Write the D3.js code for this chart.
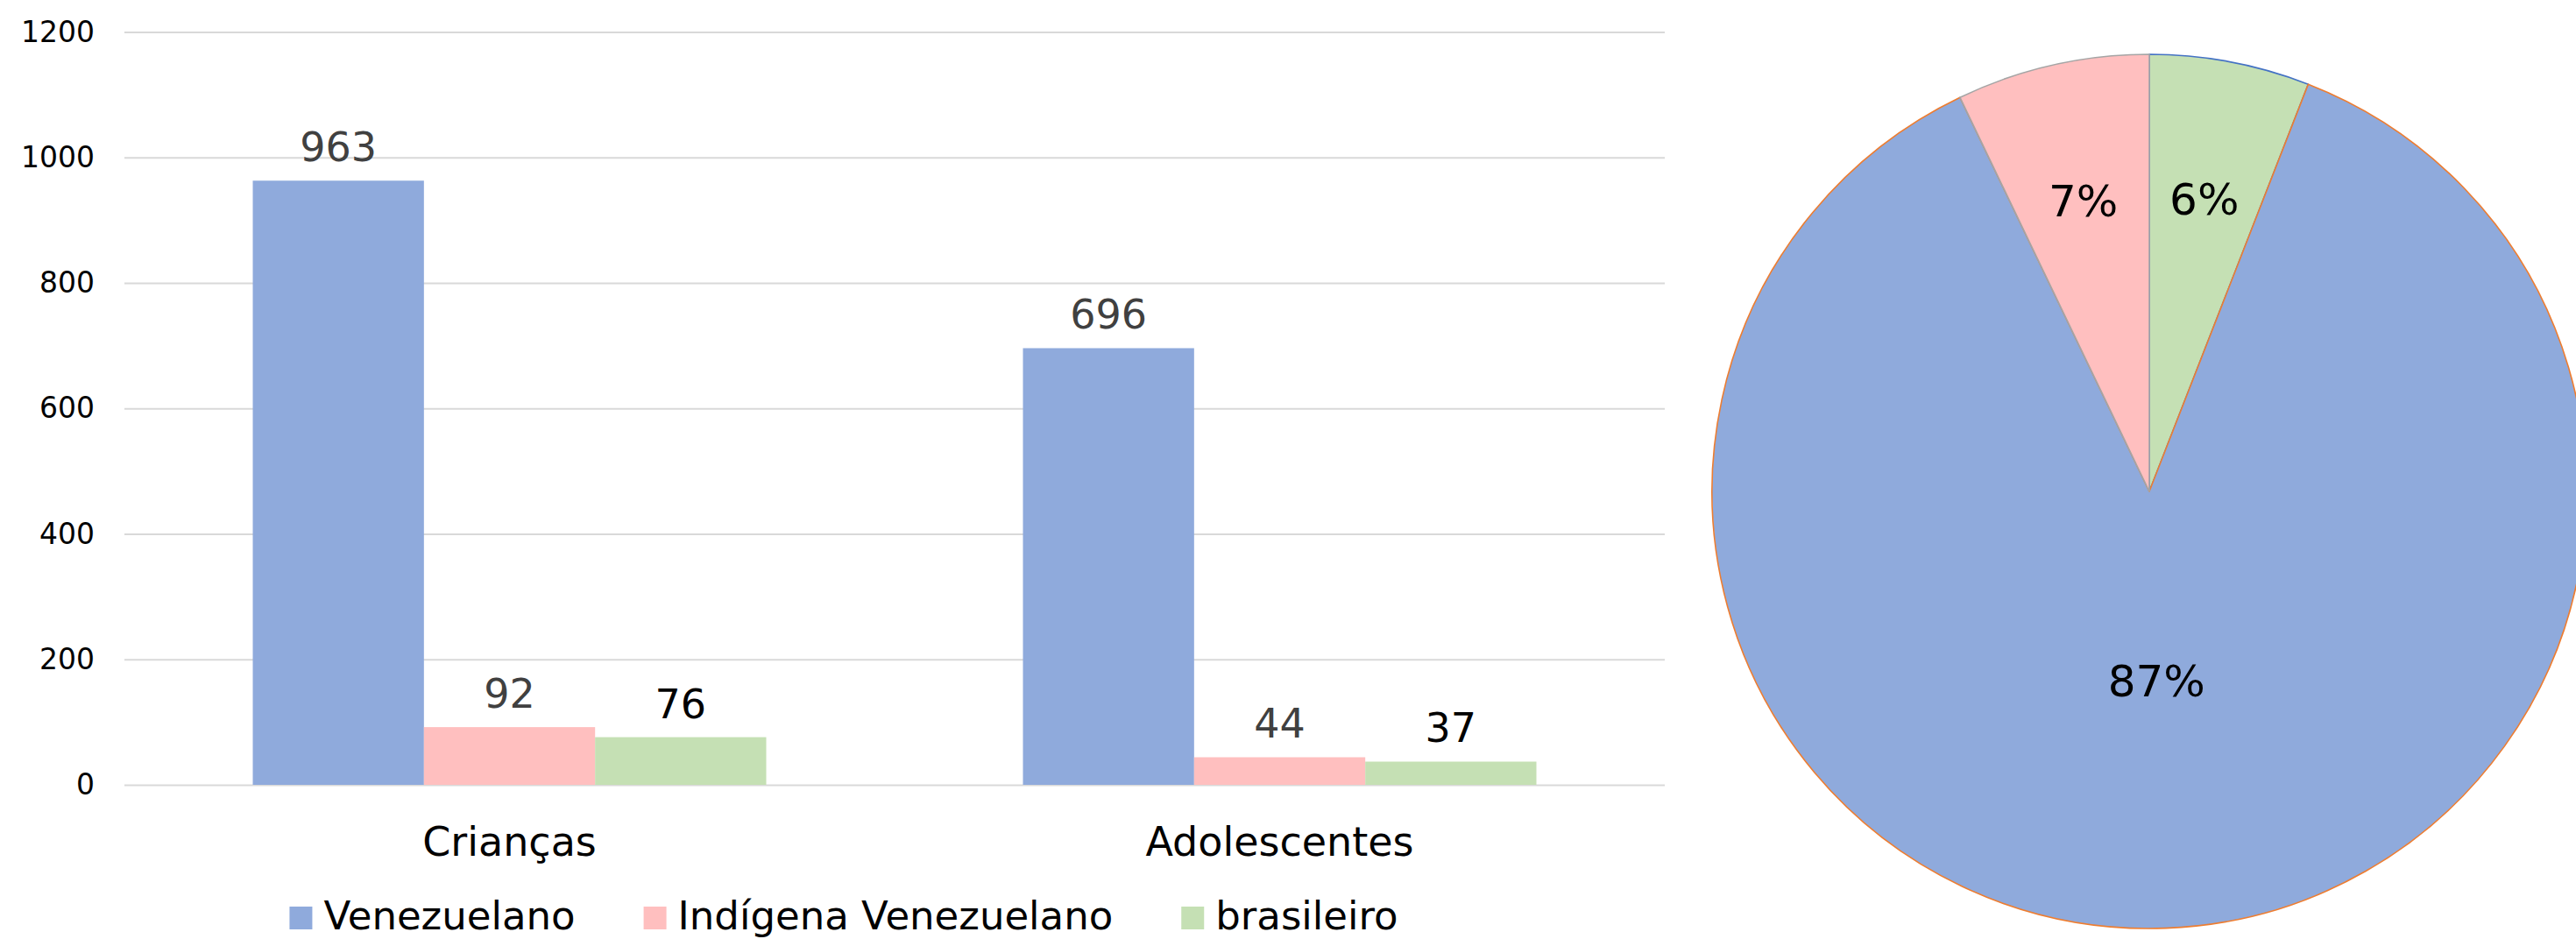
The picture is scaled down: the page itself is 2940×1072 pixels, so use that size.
<!DOCTYPE html>
<html><head><meta charset="utf-8">
<script src="https://cdn.jsdelivr.net/npm/d3@7"></script>
<style>body{margin:0;background:#fff} svg{display:block}</style>
</head><body>
<svg id="c" width="2940" height="1072"></svg>
<script>
// ---- data ----
const categories = ["Crianças", "Adolescentes"];
const seriesNames = ["Venezuelano", "Indígena Venezuelano", "brasileiro"];
const venezuelano = [963, 696];
const indigena = [92, 44];
const brasileiro = [76, 37];
const yTicks = [0, 200, 400, 600, 800, 1000, 1200];
const pieNames = ["brasileiro", "Venezuelano", "Indígena Venezuelano"];
const pieValues = [113, 1659, 136];
const piePercentLabels = ["6%", "87%", "7%"];

// ---- styles ----
const FONT = "'DejaVu Sans', sans-serif";
const seriesColors = ["#8FAADC", "#FFBFBF", "#C5E0B4"];
const labelColors = ["#404040", "#404040", "#000000"];
const pieFill = {"Venezuelano": "#8FAADC", "Indígena Venezuelano": "#FFBFBF", "brasileiro": "#C5E0B4"};
const pieStroke = ["#4472C4", "#ED7D31", "#A5A5A5"];
const pieLabelK = [0.68, 0.435, 0.68];

const svg = d3.select("#c");
const seriesData = [venezuelano, indigena, brasileiro];

// ---- bar chart ----
const plot = {left: 142, right: 1900, top: 36.5, bottom: 896};
const y = d3.scaleLinear().domain([0, 1200]).range([plot.bottom, plot.top]);
const x0 = d3.scaleBand().domain(categories).range([plot.left, plot.right]).paddingInner(0).paddingOuter(0);
const x1 = d3.scaleBand().domain(seriesNames).range([0, x0.bandwidth()]).paddingInner(0).paddingOuter(0.75);

const yAxis = d3.axisLeft(y).tickValues(yTicks).tickSize(-(plot.right - plot.left)).tickPadding(34).tickFormat(d3.format("d"));
const gy = svg.append("g").attr("transform", `translate(${plot.left},0)`).call(yAxis);
gy.select(".domain").remove();
gy.selectAll(".tick line").attr("stroke", "#D9D9D9").attr("stroke-width", 2);
gy.selectAll(".tick text").attr("font-family", FONT).attr("font-size", 33).attr("fill", "#000");

const groups = svg.append("g").selectAll("g").data(categories).join("g")
  .attr("transform", d => `translate(${x0(d)},0)`);

groups.each(function(cat, ci) {
  const g = d3.select(this);
  seriesNames.forEach((s, si) => {
    const v = seriesData[si][ci];
    g.append("rect")
      .attr("x", x1(s)).attr("width", x1.bandwidth())
      .attr("y", y(v)).attr("height", y(0) - y(v))
      .attr("fill", seriesColors[si]);
    g.append("text")
      .attr("x", x1(s) + x1.bandwidth() / 2).attr("y", y(v) - 22)
      .attr("text-anchor", "middle")
      .attr("font-family", FONT).attr("font-size", 46)
      .attr("fill", labelColors[si]).text(v);
  });
});

// category axis labels
svg.append("g").selectAll("text").data(categories).join("text")
  .attr("x", d => x0(d) + x0.bandwidth() / 2).attr("y", 977)
  .attr("text-anchor", "middle").attr("font-family", FONT).attr("font-size", 46)
  .attr("fill", "#000").text(d => d);

// legend
const legend = svg.append("g");
const items = legend.selectAll("g").data(seriesNames).join("g");
items.append("rect").attr("width", 26).attr("height", 26).attr("y", 1035)
  .attr("fill", (d, i) => seriesColors[i]);
items.append("text").attr("x", 39).attr("y", 1061)
  .attr("font-family", FONT).attr("font-size", 45).attr("fill", "#000").text(d => d);
const widths = [];
items.each(function() { widths.push(39 + d3.select(this).select("text").node().getComputedTextLength()); });
const gap = 78;
const total = d3.sum(widths) + gap * (widths.length - 1);
let cx = 963 - total / 2;
items.attr("transform", (d, i) => { const t = `translate(${cx},0)`; cx += widths[i] + gap; return t; });

// ---- pie chart ----
const pieC = {x: 2453, y: 561, r: 499};
const pie = d3.pie().sort(null).value(d => d).startAngle(0).endAngle(2 * Math.PI);
const arcs = pie(pieValues);
const arc = d3.arc().innerRadius(0).outerRadius(pieC.r);
const pg = svg.append("g").attr("transform", `translate(${pieC.x},${pieC.y})`);
pg.selectAll("path").data(arcs).join("path")
  .attr("d", arc)
  .attr("fill", (d, i) => pieFill[pieNames[i]])
  .attr("stroke", (d, i) => pieStroke[i])
  .attr("stroke-width", 1.6)
  .attr("stroke-linejoin", "round");
pg.selectAll("text").data(arcs).join("text")
  .attr("transform", (d, i) => {
    const a = d3.arc().innerRadius(pieC.r * pieLabelK[i]).outerRadius(pieC.r * pieLabelK[i]);
    const c = a.centroid(d);
    return `translate(${c[0]},${c[1]})`;
  })
  .attr("text-anchor", "middle").attr("dominant-baseline", "central")
  .attr("font-family", FONT).attr("font-size", 50).attr("fill", "#000")
  .text((d, i) => piePercentLabels[i]);
</script>
</body></html>
